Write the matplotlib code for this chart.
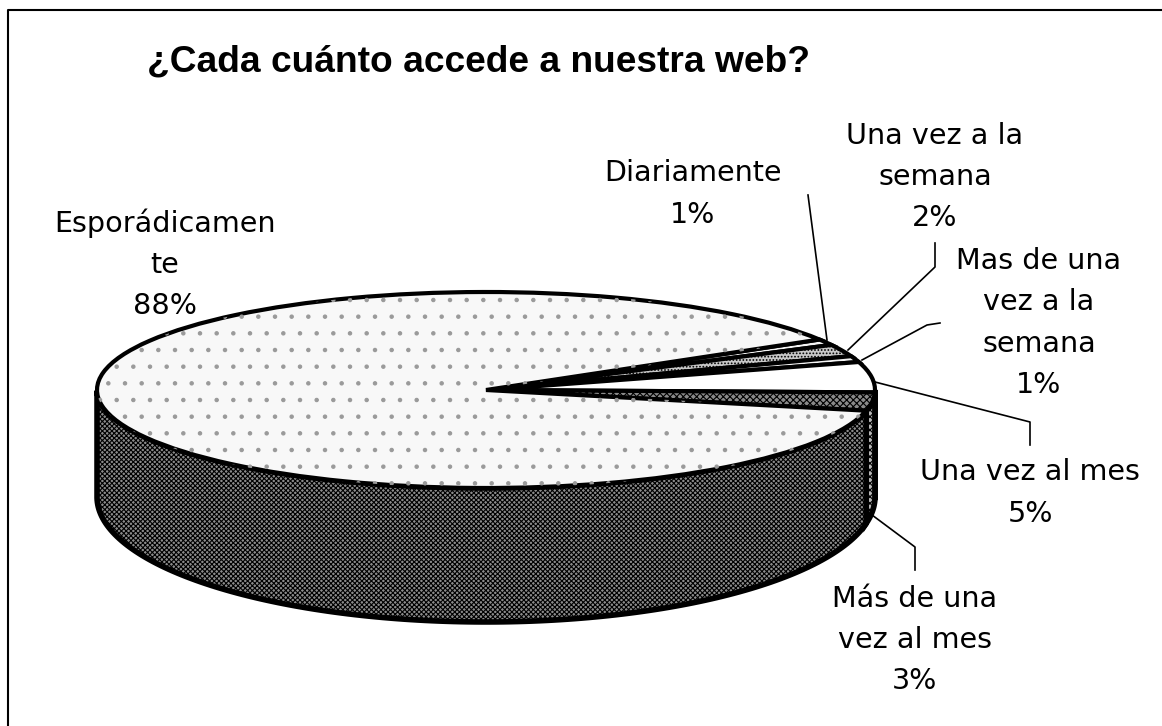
import numpy as np
import matplotlib
matplotlib.use('Agg')
import matplotlib.pyplot as plt

plt.rcParams['hatch.linewidth'] = 0.8

labels = ['Diariamente', 'Una vez a la\nsemana', 'Mas de una\nvez a la\nsemana',
          'Una vez al mes', 'Más de una\nvez al mes', 'Esporádicamen\nte']
values = [1, 2, 1, 5, 3, 88]
top_colors = ['#f4f4f4', '#c8c8c8', '#f4f4f4', '#ffffff', '#8a8a8a', '#f8f8f8']
side_colors = ['#f4f4f4', '#c8c8c8', '#f4f4f4', '#ffffff', '#b4b4b4', '#8c8c8c']
title = '¿Cada cuánto accede a nuestra web?'

W, H = 1162, 726
cx, cy = 486, 390      # pie centre in pixels
rx, ry = 389, 98       # ellipse radii in pixels
depth = 107 / ry
ry_low = 125 / ry      # lower rim is rounder, the chart has some perspective
start = 31


def px(x, y):
    return (x - cx) / rx, (cy - y) / ry


fig = plt.figure(figsize=(W / 100, H / 100), dpi=100)
ax = fig.add_axes([0, 0, 1, 1])

# side wall first, front part only
a = start
for i, (v, col) in enumerate(zip(values, side_colors)):
    b = a - v * 3.6
    t = np.radians(np.linspace(a, b, 300))
    t = t[np.sin(t) <= 0.001]
    if len(t) > 1:
        xs = np.cos(t)
        ys = np.sin(t)
        ax.fill(np.r_[xs, xs[::-1]], np.r_[ys, ys[::-1] * ry_low - depth], facecolor=col,
                edgecolor='black', linewidth=4, hatch='xxxxxxx' if i == 5 else 'xxxxx',
                zorder=1)
    a = b

wedges, _ = ax.pie(values, colors=top_colors, startangle=start, counterclock=False,
                   wedgeprops={'edgecolor': 'black', 'linewidth': 3})
for w in wedges:
    w.set_zorder(2)
wedges[4].set_hatch('xxxxx')
wedges[1].set_hatch('.....')

# light speckle on the big slice, kept under the outline
speck, _ = ax.pie(values[-1:] + [100 - values[-1]], colors=['none', 'none'],
                  startangle=start - sum(values[:-1]) * 3.6, counterclock=False,
                  wedgeprops={'edgecolor': '#9a9a9a', 'linewidth': 0})
speck[0].set_hatch('.')
speck[0].set_zorder(2.5)
speck[1].set_visible(False)

ax.set_aspect('auto')
ax.set_xlim(px(0, 0)[0], px(W, 0)[0])
ax.set_ylim(px(0, H)[1], px(0, 0)[1])
ax.axis('off')

# leader lines
leaders = [
    [(827, 340), (808, 195)],
    [(848, 350), (935, 267), (935, 243)],
    [(862, 360), (927, 325), (940, 323)],
    [(875, 382), (1030, 422), (1030, 445)],
    [(868, 512), (915, 547), (915, 570)],
]
for pts in leaders:
    xy = np.array([px(*p) for p in pts])
    ax.plot(xy[:, 0], xy[:, 1], color='black', linewidth=1.2, zorder=3)

for lab, v, (x, y) in zip(labels, values, [(693, 194), (935, 177), (1039, 323), (1030, 493), (915, 640), (165, 264)]):
    fx, fy = px(x, y)
    ax.text(fx, fy, lab + '\n%d%%' % v, ha='center', va='center', fontsize=20.6,
            linespacing=1.6, family='DejaVu Sans', color='black', zorder=4)

fx, fy = px(147, 62)
ax.text(fx, fy, title, ha='left', va='center', fontsize=26.7, fontweight='bold',
        family='Liberation Sans', color='black', zorder=4)

# only the top and left of the frame survive in the scan
ax.plot(*zip(px(8, H), px(8, 10), px(W, 10)), color='black', linewidth=1.5, zorder=4)

fig.savefig('out.png', dpi=100)
